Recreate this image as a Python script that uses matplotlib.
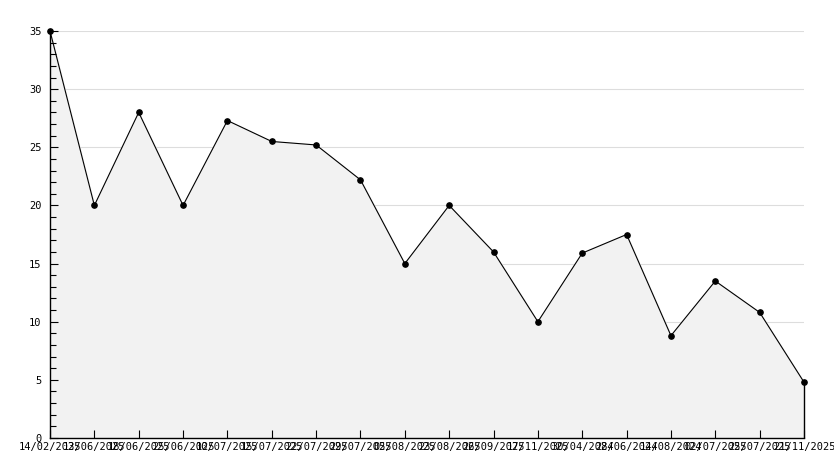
import matplotlib.pyplot as plt
from matplotlib.ticker import MultipleLocator

dates = ['14/02/2025', '13/06/2025', '18/06/2025', '25/06/2025', '10/07/2025',
         '15/07/2025', '22/07/2025', '29/07/2025', '05/08/2025', '23/08/2025',
         '26/09/2025', '17/11/2025', '30/04/2024', '28/06/2024', '14/08/2024',
         '02/07/2025', '25/07/2025', '21/11/2025']
values = [35, 20, 28, 20, 27.3, 25.5, 25.2, 22.2, 15, 20, 16, 10, 15.9, 17.5,
          8.8, 13.5, 10.8, 4.8]
y_major = [5, 10, 15, 20, 25, 30, 35]

x = list(range(len(values)))

fig = plt.figure(figsize=(8.34, 4.68), dpi=100)
ax = fig.add_axes([50 / 834, 30 / 468, 754 / 834, 407 / 468])

# grid goes under the filled area
ax.hlines(y_major, x[0], x[-1], color='#dddddd', linewidth=0.8, zorder=0.2)
ax.fill_between(x, values, 0, color='#f2f2f2', zorder=1)
ax.plot(x, values, color='black', linewidth=0.8, marker='o', markersize=3.8,
        zorder=3, clip_on=False)
ax.vlines(x[-1], 0, values[-1], color='black', linewidth=1.0, zorder=2,
          clip_on=False)

ax.set_xlim(0, len(values) - 1)
ax.set_ylim(0, 35)
ax.set_xticks(x)
ax.set_xticklabels(dates)
ax.yaxis.set_major_locator(MultipleLocator(5))
ax.yaxis.set_minor_locator(MultipleLocator(1))

for side in ['top', 'right']:
    ax.spines[side].set_visible(False)
for side in ['left', 'bottom']:
    ax.spines[side].set_linewidth(1.0)

ax.tick_params(axis='both', which='major', direction='in', length=6,
               labelsize=7.5, width=0.8)
ax.tick_params(axis='y', which='minor', direction='in', length=4, width=0.8)
ax.tick_params(axis='x', pad=3)
ax.tick_params(axis='y', pad=6)
for lbl in ax.get_xticklabels() + ax.get_yticklabels():
    lbl.set_family('DejaVu Sans Mono')

fig.savefig('out.png', dpi=100)
